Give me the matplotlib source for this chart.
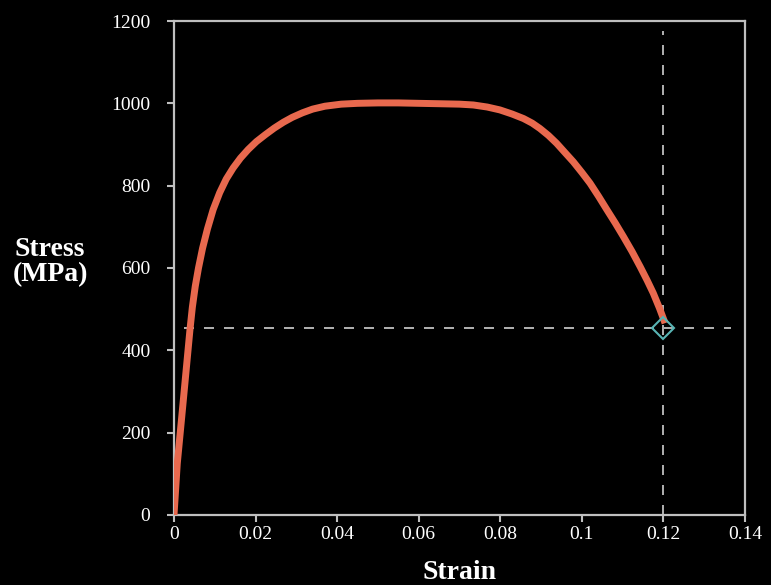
import matplotlib
matplotlib.use("Agg")
import matplotlib.pyplot as plt

# stress-strain curve
strain = [0.0, 0.0008, 0.0019, 0.0029, 0.0039, 0.0045, 0.0052, 0.0060, 0.0070,
          0.0082, 0.0096, 0.0112, 0.0128, 0.0145, 0.0163, 0.0182, 0.0202, 0.0224,
          0.0246, 0.0268, 0.0290, 0.0315, 0.0340, 0.0370, 0.0410, 0.0450, 0.0500,
          0.0550, 0.0600, 0.0652, 0.0700, 0.0734, 0.0768, 0.0799, 0.0829, 0.0857,
          0.0878, 0.0897, 0.0918, 0.0938, 0.0958, 0.0979, 0.1000, 0.1020, 0.1041,
          0.1061, 0.1082, 0.1102, 0.1123, 0.1143, 0.1160, 0.1175, 0.1190, 0.1204]
stress = [0, 125, 239, 344, 449, 505, 555, 600, 648,
          695, 742, 783, 816, 843, 867, 888, 907, 924,
          940, 954, 966, 977, 986, 993, 998, 1000, 1001,
          1001, 1000, 999, 998, 996, 991, 984, 974, 963,
          952, 939, 922, 903, 881, 858, 832, 806, 774,
          742, 709, 676, 640, 603, 570, 539, 503, 466]

fracture_strain = 0.12
fracture_stress = 455
hline_span = (0.0025, 0.1365)
vline_top = 1175

xticks = [0, 0.02, 0.04, 0.06, 0.08, 0.1, 0.12, 0.14]
xtick_labels = ["0", "0.02", "0.04", "0.06", "0.08", "0.1", "0.12", "0.14"]
yticks = [0, 200, 400, 600, 800, 1000, 1200]

serif = ["Liberation Serif", "DejaVu Serif"]
spine_col = "#bfbfbf"

fig = plt.figure(figsize=(7.71, 5.85), dpi=100, facecolor="black")
ax = fig.add_axes([0.2257, 0.1197, 0.7406, 0.8444], facecolor="black")

ax.plot(strain, stress, color="#e8694e", lw=5, solid_capstyle="butt",
        solid_joinstyle="round", zorder=3)
ax.hlines(fracture_stress, *hline_span, colors="#d0d0d0", linestyles=(0, (6, 6)), lw=1.2, zorder=2)
ax.vlines(fracture_strain, 0, vline_top, colors="#d0d0d0", linestyles=(0, (6, 6)), lw=1.2, zorder=2)
ax.plot([fracture_strain], [fracture_stress], marker="D", ms=11, mfc="none",
        mec="#58b4b4", mew=1.5, zorder=4)

ax.set_xlim(0, 0.14)
ax.set_ylim(0, 1200)
ax.set_xticks(xticks)
ax.set_xticklabels(xtick_labels)
ax.set_yticks(yticks)

for s in ax.spines.values():
    s.set_color(spine_col)
    s.set_linewidth(1.6)

ax.tick_params(axis="both", direction="out", length=5, width=1.5, color=spine_col,
               labelcolor="white", labelsize=14)
ax.tick_params(axis="y", pad=12)
ax.tick_params(axis="x", pad=3)
for lab in ax.get_xticklabels() + ax.get_yticklabels():
    lab.set_family(serif)

ax.set_xlabel("Strain", family=serif, fontsize=20, fontweight="bold", color="white", labelpad=12)
fig.text(50 / 771, 1 - 262 / 585, "Stress\n(MPa)", family=serif, fontsize=20,
         fontweight="bold", color="white", ha="center", va="center", linespacing=1.05)

fig.savefig("out.png", dpi=100, facecolor="black")
